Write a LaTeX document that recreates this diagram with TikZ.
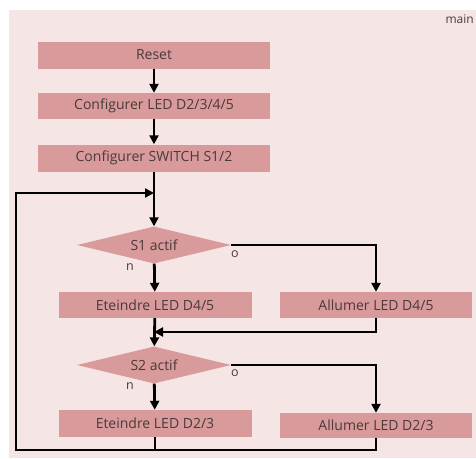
\documentclass[tikz,border=0pt]{standalone}
\usepackage{fontspec}
\setmainfont{Open Sans}
\usetikzlibrary{shapes.geometric,positioning,arrows.meta}
\definecolor{fondrose}{HTML}{F5E5E4}
\definecolor{boiterose}{HTML}{D99A9B}
\definecolor{texte}{HTML}{4A3A3A}
\tikzset{
  boite/.style={fill=boiterose, text=texte, inner sep=0pt, minimum height=27pt, font=\fontsize{14}{16}\selectfont},
  test/.style={diamond, aspect=4, fill=boiterose, text=texte, inner sep=0pt, minimum width=154pt, minimum height=37pt, font=\fontsize{14}{16}\selectfont},
  lettre/.style={text=texte, inner sep=0pt, font=\fontsize{12.5}{14}\selectfont},
  fleche/.style={line width=2.8pt}
}
\begin{document}
\begin{tikzpicture}[x=1pt, y=-1pt, >={Triangle[length=9pt,width=9pt]}, line cap=butt, line join=miter]
	\def\xg{16}
	\def\yb{450}
	\path[use as bounding box, clip] (0,0) rectangle (476,458);
	\fill[fondrose] (9,10) rectangle (476,458);
	\node[text=texte, anchor=east, inner sep=0pt, font=\fontsize{12}{14}\selectfont] (titre) at (474,19) {main};
	\node[boite, minimum width=232pt] (reset) at (154,55) {Reset};
	\node[boite, minimum width=232pt, minimum height=26pt] (cfgled) at (154,106) {Configurer LED D2/3/4/5};
	\node[boite, minimum width=232pt] (cfgsw) at (154,158) {Configurer SWITCH S1/2};
	\node[test] (s1) at (154,245) {S1 actif};
	\node[boite, minimum width=193pt, minimum height=26pt] (off45) at (155,305) {Eteindre LED D4/5};
	\node[boite, minimum width=192pt, minimum height=26pt] (on45) at (376,305) {Allumer LED D4/5};
	\node[test] (s2) at (154,365) {S2 actif};
	\node[boite, minimum width=193pt] (off23) at (155,423.5) {Eteindre LED D2/3};
	\node[boite, minimum width=192pt, minimum height=25pt] (on23) at (376,425.5) {Allumer LED D2/3};
	\node[lettre] (s1o) at (235,254) {o};
	\node[lettre] (s1n) at (130,267) {n};
	\node[lettre] (s2o) at (235,373) {o};
	\node[lettre] (s2n) at (130,386) {n};
	\coordinate (boucle) at (154,193);
	\coordinate (coin) at (\xg,\yb);
	\coordinate (fusion) at (154,332);
	\draw[fleche,->] (reset) -- (cfgled);
	\draw[fleche,->] (cfgled) -- (cfgsw);
	\draw[fleche,->] (cfgsw) -- (s1);
	\draw[fleche,->] (s1.east) -| (on45.north);
	\draw[fleche,->] (s1) -- (off45);
	\draw[fleche,->] (off45) -- (s2);
	\draw[fleche,->] (on45.south) |- (fusion);
	\draw[fleche,->] (s2.east) -| (on23.north);
	\draw[fleche,->] (s2) -- (off23);
	\draw[fleche,->] (off23.south) |- (coin) |- (boucle);
	\draw[fleche] (on23.south) |- (off23.south |- coin);
\end{tikzpicture}
\end{document}
